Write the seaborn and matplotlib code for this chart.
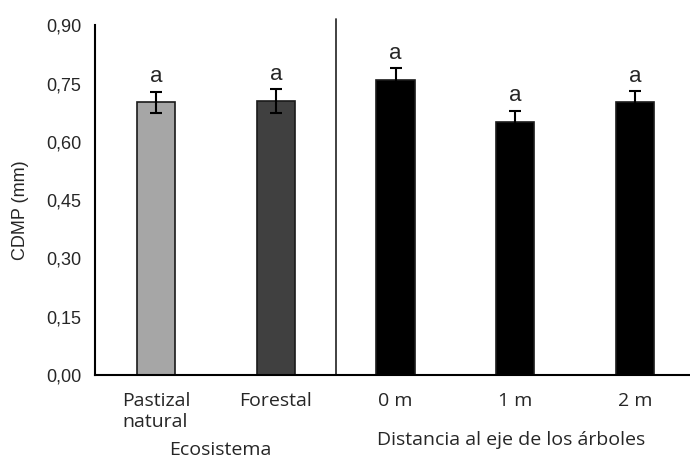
import pandas as pd
import matplotlib
matplotlib.use("Agg")
import matplotlib.pyplot as plt
import seaborn as sns

categorias = ["Pastizal\nnatural", "Forestal", "0 m", "1 m", "2 m"]
cdmp = [0.702, 0.705, 0.759, 0.651, 0.702]
error = [0.027, 0.030, 0.030, 0.028, 0.028]
letras = ["a", "a", "a", "a", "a"]
colores = ["#a6a6a6", "#404040", "#000000", "#000000", "#000000"]
yticks = [0.0, 0.15, 0.30, 0.45, 0.60, 0.75, 0.90]

df = pd.DataFrame({"cat": categorias, "cdmp": cdmp})

sns.set_style("white")
plt.rcParams["font.family"] = ["Liberation Sans", "DejaVu Sans"]
fuente_x = ["Open Sans", "DejaVu Sans"]

fig = plt.figure(figsize=(6.9, 4.58), dpi=100)
ax = fig.add_axes([0.138, 0.181, 0.862, 0.764])

sns.barplot(data=df, x="cat", y="cdmp", hue="cat", palette=colores, legend=False,
            width=0.32, edgecolor="#1a1a1a", linewidth=1.2, errorbar=None, ax=ax)
ax.errorbar(range(len(categorias)), cdmp, yerr=error, fmt="none", ecolor="black",
            elinewidth=1.5, capsize=4, capthick=1.5)
for i, (v, e, t) in enumerate(zip(cdmp, error, letras)):
    ax.text(i, v + e + 0.012, t, ha="center", va="bottom", fontsize=16)

# línea divisoria entre grupos
ax.plot([1.5, 1.5], [0, 0.915], color="#333333", lw=1.3, clip_on=False)

ax.set_xlim(-0.51, 4.46)
ax.set_ylim(0, 0.90)
ax.set_yticks(yticks)
ax.set_yticklabels([f"{t:.2f}".replace(".", ",") for t in yticks], fontsize=13)
ax.set_xticks(range(len(categorias)))
ax.set_xticklabels(categorias, fontsize=14, family=fuente_x, linespacing=1.2,
                   multialignment="left")
ax.tick_params(axis="y", direction="out", length=6, width=1.5, color="black", pad=4)
ax.tick_params(axis="x", length=0, pad=12)
for s in ["top", "right"]:
    ax.spines[s].set_visible(False)
for s in ["left", "bottom"]:
    ax.spines[s].set_linewidth(1.5)
    ax.spines[s].set_color("black")

ax.set_xlabel("")
ax.set_ylabel("CDMP (mm)", fontsize=13)
ax.yaxis.set_label_coords(-0.112, 0.47)

fig.text(220 / 690, 1 - 441 / 458, "Ecosistema", ha="center", va="top", fontsize=14,
         family=fuente_x)
fig.text(511 / 690, 1 - 431 / 458, "Distancia al eje de los árboles", ha="center", va="top",
         fontsize=14, family=fuente_x)

fig.savefig("out.png", dpi=100)
